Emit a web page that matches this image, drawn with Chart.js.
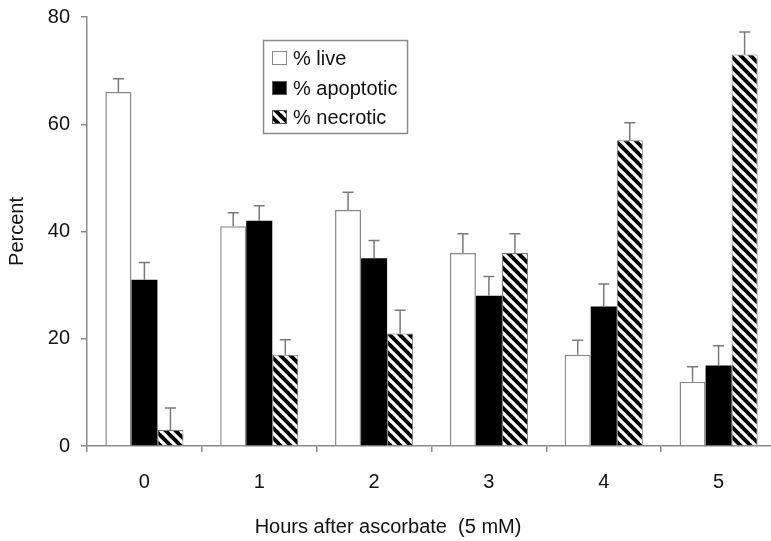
<!DOCTYPE html>
<html>
<head>
<meta charset="utf-8">
<script src="https://cdn.jsdelivr.net/npm/chart.js@4"></script>
<style>
  html, body { margin: 0; padding: 0; background: #fff; overflow: hidden; }
  #wrap { width: 776px; height: 541px; }
</style>
</head>
<body>
<div id="wrap"><canvas id="cell-graph" width="776" height="541"></canvas></div>
<script>
// --< Data >--
const hours = ["0", "1", "2", "3", "4", "5"];
const yTicks = [0, 20, 40, 60, 80];

const liveVals = [66, 41, 44, 36, 17, 12];
const liveErr = [2.5, 2.5, 3.3, 3.6, 2.7, 2.8];
const apoVals = [31, 42, 35, 28, 26, 15];
const apoErr = [3.2, 2.8, 3.3, 3.6, 4.2, 3.7];
const necVals = [3, 17, 21, 36, 57, 73];
const necErr = [4.1, 2.8, 4.3, 3.6, 3.3, 4.2];
// --</ Data >--

const AXIS_GREY = '#8a8a8a';
const FONT = "'Liberation Sans', Arial, sans-serif";

Chart.defaults.font.family = FONT;
Chart.defaults.font.size = 20;
Chart.defaults.color = '#111';

// hatch for necrotic bars (white stripes on black, top-left to bottom-right)
function make_hatch() {
  const c = document.createElement('canvas');
  c.width = 10; c.height = 10;
  const g = c.getContext('2d');
  g.fillStyle = '#000';
  g.fillRect(0, 0, 10, 10);
  g.strokeStyle = '#fff';
  g.lineWidth = 3.2;
  for (const k of [-10, 0, 10]) {
    g.beginPath();
    g.moveTo(k - 2, -2);
    g.lineTo(k + 12, 12);
    g.stroke();
  }
  return g.createPattern(c, 'repeat');
}
const hatch = make_hatch();

// upper error bars, positioned through the chart's own scales
const errorBars = {
  id: 'errorBars',
  afterDatasetsDraw(chart) {
    const ctx = chart.ctx;
    const yScale = chart.scales.y;
    ctx.save();
    ctx.strokeStyle = '#7a7a7a';
    ctx.lineWidth = 1.5;
    chart.data.datasets.forEach((ds, di) => {
      const meta = chart.getDatasetMeta(di);
      meta.data.forEach((bar, i) => {
        const top = yScale.getPixelForValue(ds.data[i]);
        const end = yScale.getPixelForValue(ds.data[i] + ds.errors[i]);
        ctx.beginPath();
        ctx.moveTo(bar.x, top);
        ctx.lineTo(bar.x, end);
        ctx.moveTo(bar.x - 5.5, end);
        ctx.lineTo(bar.x + 5.5, end);
        ctx.stroke();
      });
    });
    ctx.restore();
  }
};

// boxed legend sitting inside the plot
const boxLegend = {
  id: 'boxLegend',
  afterDraw(chart) {
    const ctx = chart.ctx;
    ctx.save();
    ctx.strokeStyle = '#8a8a8a';
    ctx.lineWidth = 1.5;
    ctx.strokeRect(263.5, 40.5, 144, 93);
    ctx.font = `20px ${FONT}`;
    ctx.textBaseline = 'middle';
    ctx.fillStyle = '#111';
    const rows = [58, 88, 117];
    chart.data.datasets.forEach((ds, i) => {
      const y = rows[i];
      ctx.fillStyle = ds.backgroundColor;
      ctx.fillRect(272, y - 7, 15, 14);
      ctx.strokeStyle = i === 0 ? '#8a8a8a' : '#555';
      ctx.lineWidth = 1;
      ctx.strokeRect(272.5, y - 6.5, 14, 13);
      ctx.fillStyle = '#111';
      ctx.fillText(ds.label, 293, y + 1);
    });
    ctx.restore();
  }
};

new Chart(document.getElementById('cell-graph'), {
  type: 'bar',
  data: {
    labels: hours,
    datasets: [
      { label: '% live', data: liveVals, errors: liveErr, backgroundColor: '#ffffff', borderColor: '#8a8a8a', borderWidth: 1.5 },
      { label: '% apoptotic', data: apoVals, errors: apoErr, backgroundColor: '#000000', borderColor: '#000000', borderWidth: 0 },
      { label: '% necrotic', data: necVals, errors: necErr, backgroundColor: hatch, borderColor: '#777', borderWidth: 1 },
    ]
  },
  options: {
    responsive: false,
    animation: false,
    layout: { padding: { top: 17, right: 0, left: 0, bottom: 2 } },
    datasets: { bar: { categoryPercentage: 0.68, barPercentage: 1.0 } },
    plugins: {
      legend: { display: false },
      tooltip: { enabled: false },
      title: {
        display: true,
        position: 'bottom',
        text: 'Hours after ascorbate  (5 mM)',
        font: { size: 20, weight: 'normal' },
        color: '#111',
        padding: { top: 0, bottom: 0 }
      }
    },
    scales: {
      x: {
        grid: { display: true, drawOnChartArea: false, drawTicks: true, tickLength: 6, color: AXIS_GREY, lineWidth: 1.5, offset: true },
        border: { display: true, color: AXIS_GREY, width: 1.5 },
        ticks: { padding: 18, color: '#111', font: { size: 20 } },
        afterFit: (s) => { s.height = 69; s.paddingLeft = 0; s.paddingRight = 0; }
      },
      y: {
        min: 0,
        max: 80,
        afterBuildTicks: (s) => { s.ticks = yTicks.map(v => ({ value: v })); },
        grid: { display: true, drawOnChartArea: false, drawTicks: true, tickLength: 6, color: AXIS_GREY, lineWidth: 1.5 },
        border: { display: true, color: AXIS_GREY, width: 1.5 },
        ticks: { padding: 11, color: '#111', font: { size: 20 } },
        title: { display: true, text: 'Percent', color: '#111', font: { size: 20 }, padding: { top: 5, bottom: 0 } },
        afterFit: (s) => { s.width = 87; s.paddingTop = 0; s.paddingBottom = 0; }
      }
    }
  },
  plugins: [errorBars, boxLegend]
});
</script>
</body>
</html>
